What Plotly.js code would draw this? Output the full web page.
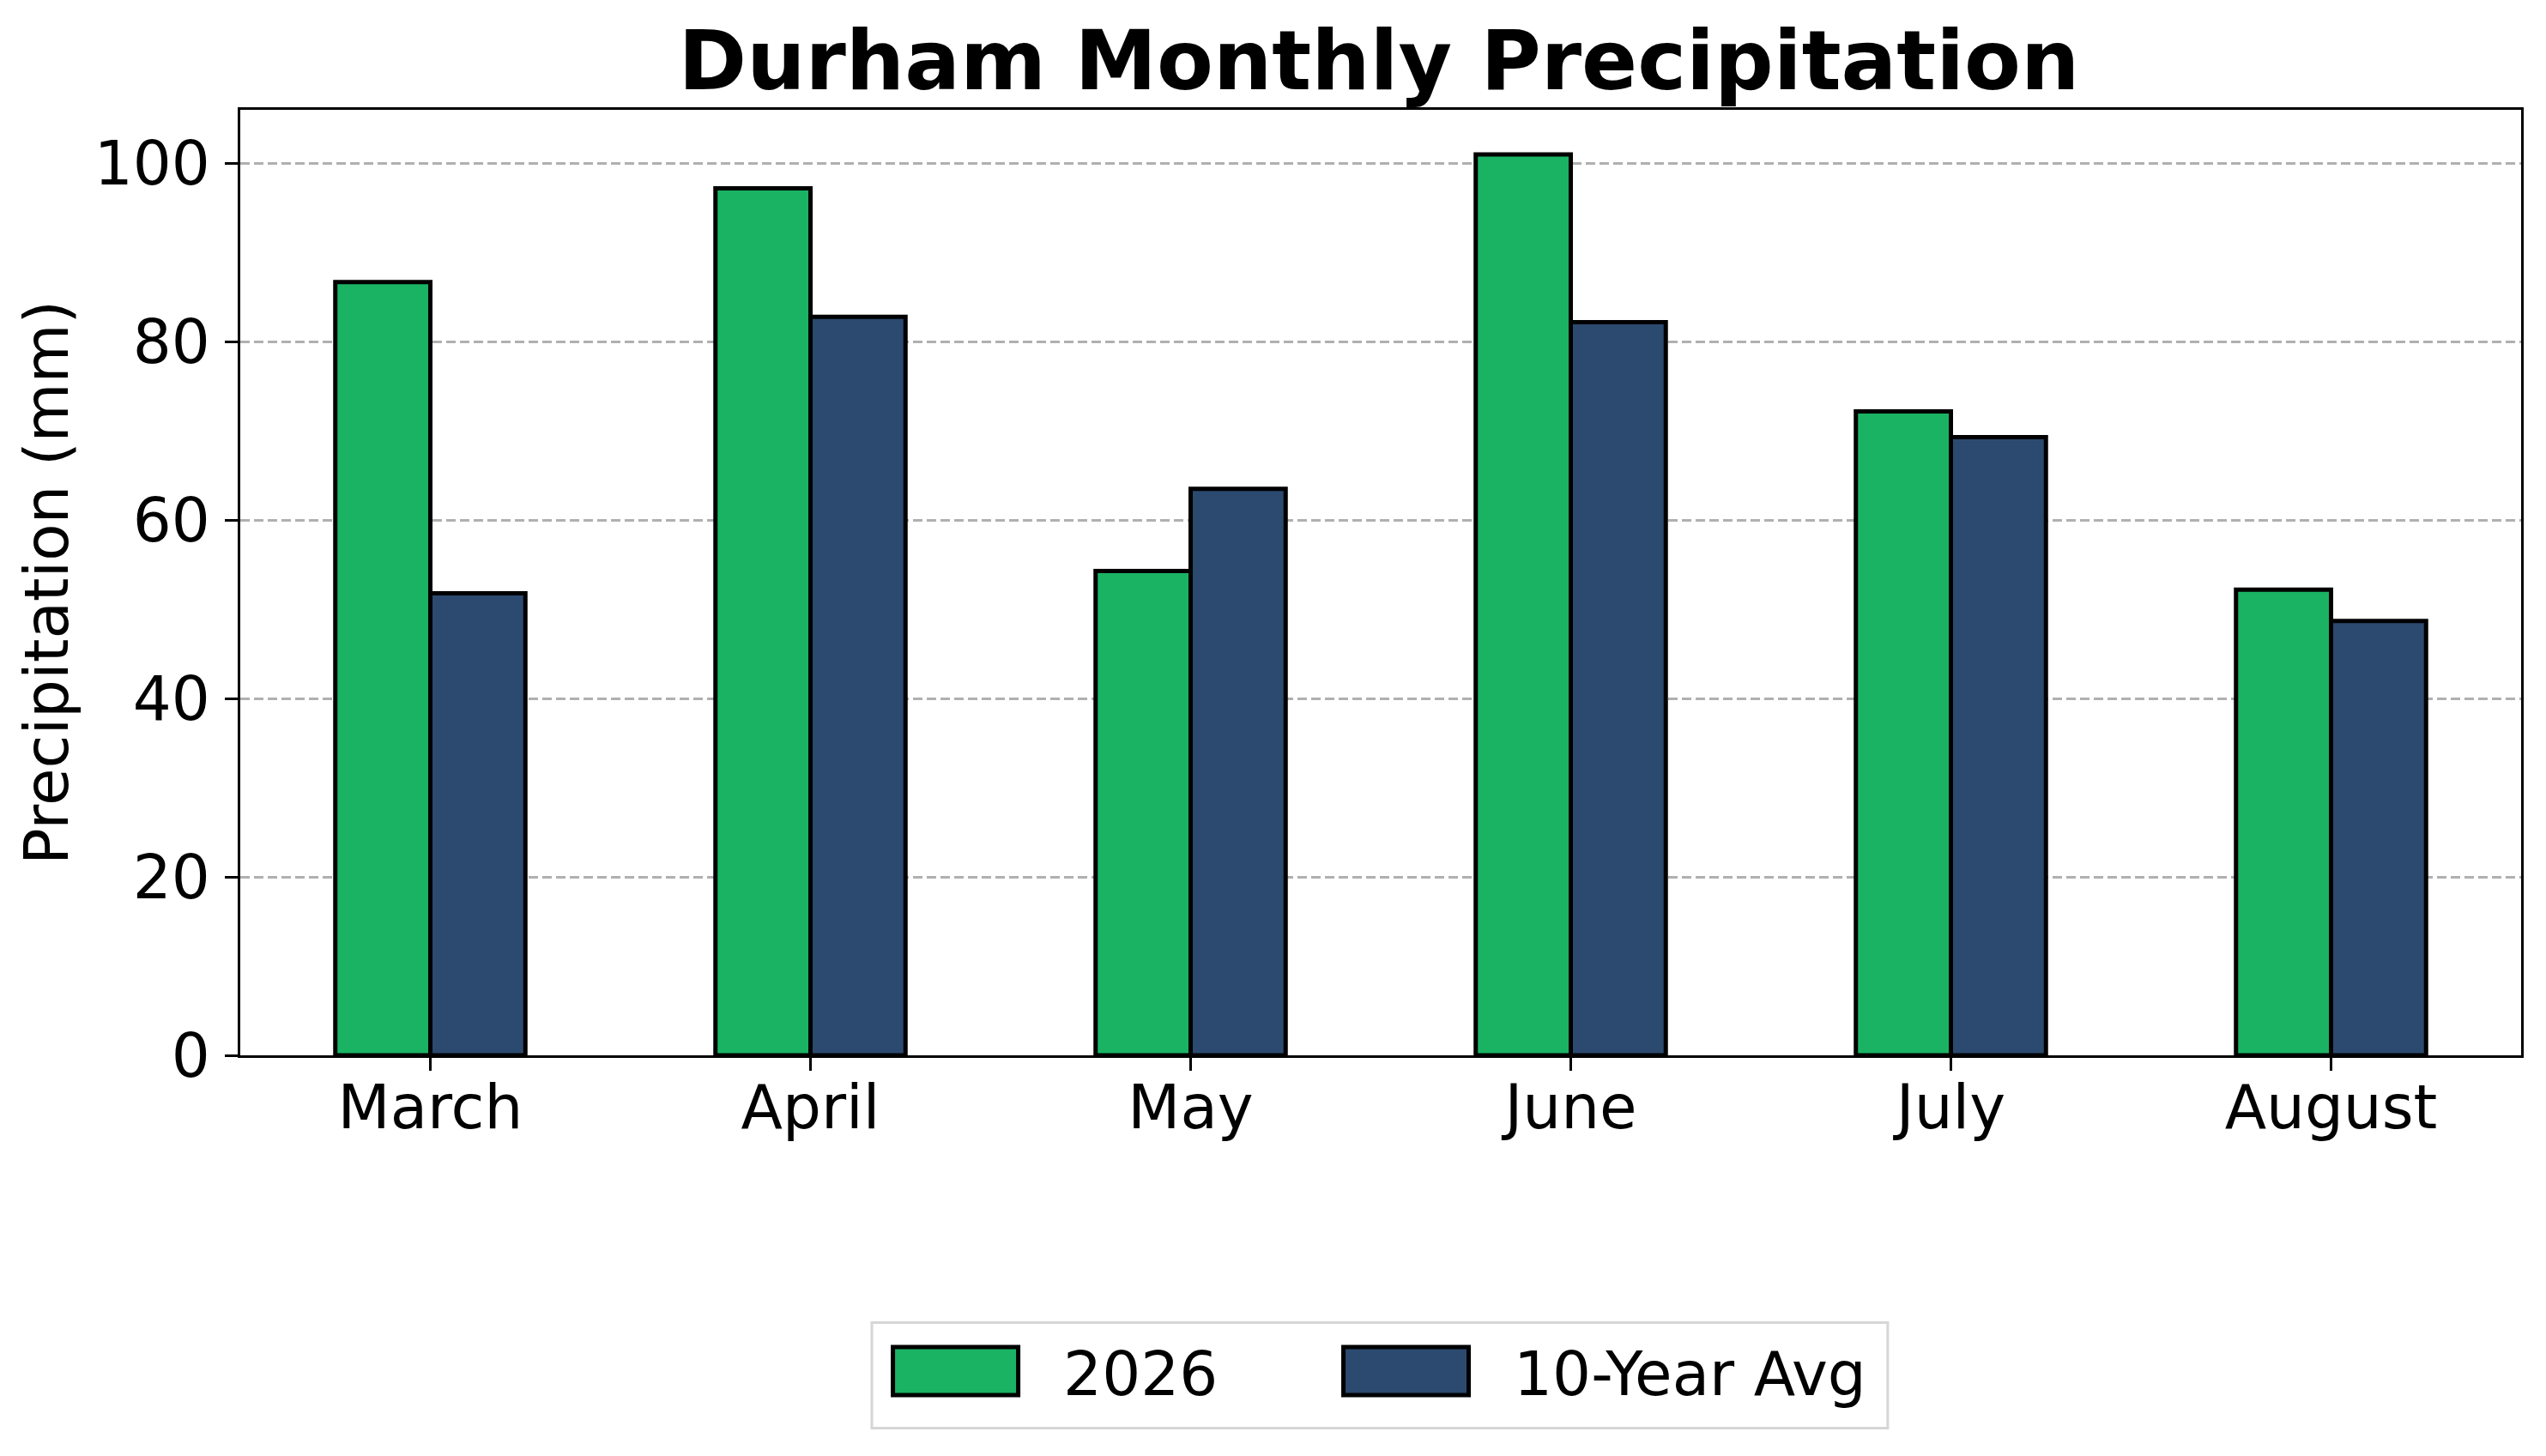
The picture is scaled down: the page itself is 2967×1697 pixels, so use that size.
<!DOCTYPE html>
<html>
<head>
<meta charset="utf-8">
<script src="https://cdn.plot.ly/plotly-3.0.1.min.js"></script>
<style>
  html, body { margin: 0; padding: 0; background: #fff; }
  #graph { width: 2967px; height: 1697px; }
</style>
</head>
<body>
<div id="graph"></div>
<script>
// Durham precipitation, values (mm)
const months = ['March', 'April', 'May', 'June', 'July', 'August'];
const precip2026 = [86.7, 97.2, 54.3, 101.0, 72.2, 52.2];
const tenYearAvg = [51.8, 82.8, 63.5, 82.2, 69.3, 48.7];

const yTicks = [0, 20, 40, 60, 80, 100];

const font = 'DejaVu Sans, sans-serif';
const fs = 70.8; // 17pt at 300 dpi

const trace2026 = {
    x: months,
    y: precip2026,
    name: '2026',
    type: 'bar',
    legend: 'legend',
    marker: {color: '#1ab364', line: {color: '#000000', width: 5}}
};

const traceAvg = {
    x: months,
    y: tenYearAvg,
    name: '10-Year Avg',
    type: 'bar',
    legend: 'legend2',
    marker: {color: '#2c4a6f', line: {color: '#000000', width: 5}}
};

// one legend per series, sitting side by side inside a common frame
const legendStyle = {
    orientation: 'h',
    yanchor: 'middle',
    y: -0.3344,
    xanchor: 'left',
    font: {family: font, size: fs, color: '#000'},
    borderwidth: 0,
    bgcolor: 'rgba(0,0,0,0)',
    itemwidth: 241
};

const layout = {
    width: 2967,
    height: 1697,
    paper_bgcolor: '#fff',
    plot_bgcolor: '#fff',
    margin: {l: 280, r: 29, t: 128, b: 467},
    barmode: 'group',
    bargap: 0.5,
    bargroupgap: 0,
    font: {family: font, size: fs, color: '#000'},
    title: {
        text: '<b>Durham Monthly Precipitation</b>',
        font: {family: font, size: 96, color: '#000'},
        x: 0.5416,
        xanchor: 'center',
        y: 1 - 70 / 1697,
        yanchor: 'middle'
    },
    xaxis: {
        type: 'category',
        range: [-0.5, 5.5],
        showline: true,
        mirror: true,
        linecolor: '#000',
        linewidth: 3,
        ticks: 'outside',
        ticklen: 15,
        tickwidth: 3,
        tickcolor: '#000',
        tickfont: {family: font, size: fs},
        ticklabelstandoff: -18,
        showgrid: false,
        zeroline: false
    },
    yaxis: {
        range: [0, 106],
        tickvals: yTicks,
        showline: true,
        mirror: true,
        linecolor: '#000',
        linewidth: 3,
        ticks: 'outside',
        ticklen: 15,
        tickwidth: 3,
        tickcolor: '#000',
        tickfont: {family: font, size: fs},
        ticklabelstandoff: 3,
        showgrid: true,
        gridcolor: '#b0b0b0',
        gridwidth: 3,
        griddash: '11px,5px',
        zeroline: false,
        title: {
            text: 'Precipitation (mm)',
            font: {family: font, size: fs},
            standoff: 7
        }
    },
    showlegend: true,
    legend: Object.assign({}, legendStyle, {x: 0.2664}),
    legend2: Object.assign({}, legendStyle, {x: 0.4639}),
    shapes: [{
        // legend frame
        type: 'rect',
        xref: 'paper', yref: 'paper',
        x0: 0.2769, x1: 0.7223,
        y0: -0.2827, y1: -0.3943,
        line: {color: '#d6d6d6', width: 3},
        fillcolor: 'rgba(0,0,0,0)',
        layer: 'below'
    }]
};

// enlarge the legend patches to the size used in the reference
function bigLegendPatches() {
    document.querySelectorAll('.legendpoints path').forEach(function (p) {
        p.setAttribute('d', 'M73,28H-73V-28H73Z');
        p.style.strokeWidth = '5px';
    });
}

const gd = document.getElementById('graph');
Plotly.newPlot(gd, [trace2026, traceAvg], layout, {staticPlot: true}).then(function () {
    bigLegendPatches();
    gd.on('plotly_afterplot', bigLegendPatches);
    setTimeout(bigLegendPatches, 300);
});
</script>
</body>
</html>
